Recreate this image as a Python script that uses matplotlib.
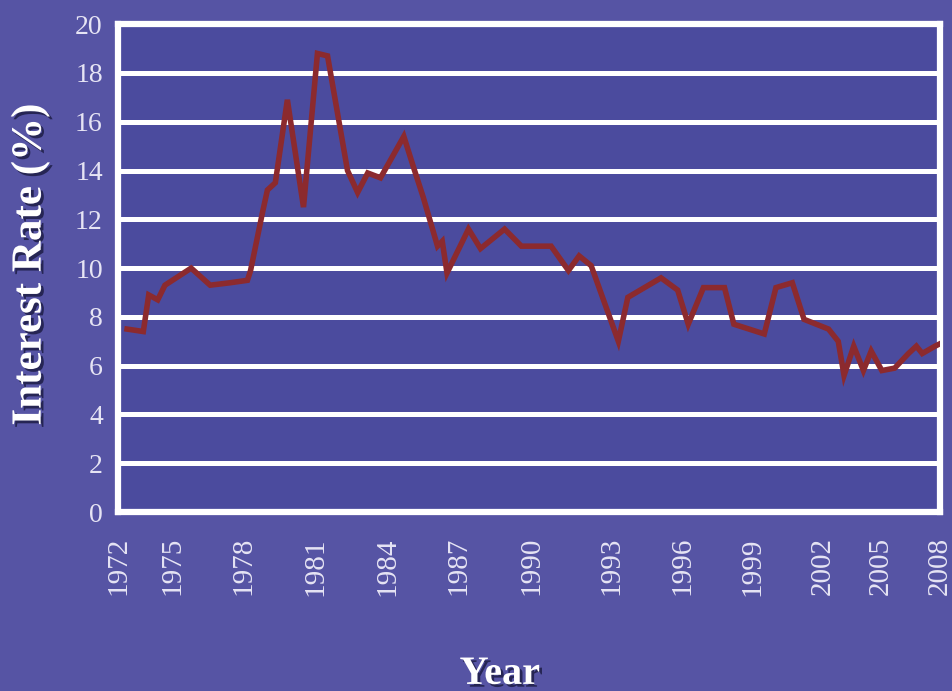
import numpy as np
import matplotlib.pyplot as plt
import matplotlib.patheffects as pe

# interest rate readings (year, percent)
years = [1972.5, 1973.4, 1973.7, 1974.2, 1974.6, 1975.8, 1976.6, 1977.45, 1978.17, 1978.3,
         1978.8, 1979.0, 1979.33, 1979.83, 1980.5, 1981.08, 1981.5, 1982.33, 1982.75, 1983.17,
         1983.7, 1984.68, 1985.1, 1985.5, 1986.1, 1986.3, 1986.5, 1987.4, 1987.9, 1988.9,
         1989.6, 1990.75, 1991.4, 1991.8, 1992.25, 1993.3, 1993.7, 1995.1, 1995.8, 1996.25,
         1996.9, 1997.8, 1998.2, 1999.5, 2000.0, 2000.7, 2001.2, 2002.3, 2002.8, 2003.1,
         2003.6, 2004.1, 2004.5, 2005.05, 2005.7, 2006.4, 2006.8, 2007.1, 2007.75, 2008.0]
rates = [7.5, 7.4, 8.9, 8.7, 9.3, 10.0, 9.3, 9.4, 9.5, 9.9,
         12.3, 13.2, 13.5, 16.9, 12.5, 18.8, 18.7, 14.0, 13.1, 13.9,
         13.7, 15.4, 14.1, 12.9, 10.9, 11.1, 9.8, 11.6, 10.8, 11.6,
         10.9, 10.9, 9.9, 10.5, 10.1, 7.0, 8.8, 9.6, 9.1, 7.7,
         9.2, 9.2, 7.7, 7.3, 9.2, 9.4, 7.9, 7.5, 7.0, 5.6,
         6.8, 5.8, 6.6, 5.8, 5.9, 6.5, 6.8, 6.5, 6.8, 6.9]

tick_years = [1972, 1975, 1978, 1981, 1984, 1987, 1990, 1993, 1996, 1999, 2002, 2005, 2008]
tick_labels = [str(y) for y in tick_years]
y_ticks = list(range(0, 21, 2))

# the original axis spaces the year labels unevenly
tick_pos = [118, 172, 243, 315, 387, 458, 530, 610, 681, 751, 821, 879, 938]


def fwd(x):
    return np.interp(x, tick_years, tick_pos)


def inv(p):
    return np.interp(p, tick_pos, tick_years)


bg = '#5654a4'
plot_bg = '#4b4b9e'
txt = '#e6e4f4'

fig = plt.figure(figsize=(9.52, 6.91), dpi=100, facecolor=bg)
ax = fig.add_axes([0.124, 0.259, 0.8634, 0.706], facecolor=plot_bg)

ax.set_xscale('function', functions=(fwd, inv))
ax.plot(years, rates, color='#8c2a2e', linewidth=4, solid_joinstyle='miter', zorder=3)

ax.set_xlim(1972, 2008)
ax.set_ylim(0, 20)
ax.set_yticks(y_ticks)
ax.set_xticks(tick_years)
ax.set_xticklabels(tick_labels, rotation=90)
ax.minorticks_off()

ax.grid(axis='y', color='white', linewidth=3.6, zorder=2)
ax.set_axisbelow(True)
for s in ax.spines.values():
    s.set_color('white')
    s.set_linewidth(4.5)

ax.tick_params(axis='y', length=0, labelsize=20, labelcolor=txt, pad=11)
ax.tick_params(axis='x', length=0, labelsize=21, labelcolor=txt, pad=18)
for lbl in ax.get_xticklabels() + ax.get_yticklabels():
    lbl.set_family('Liberation Serif')

shadow = [pe.withSimplePatchShadow(offset=(2, -2), shadow_rgbFace='#1a1a40', alpha=0.8)]
fig.text(0.032, 0.617, 'Interest Rate (%)', rotation=90, ha='center', va='center',
         fontsize=31, fontweight='bold', family='Liberation Serif', color='white',
         path_effects=shadow)
fig.text(0.525, 0.024, 'Year', ha='center', va='center', fontsize=29,
         fontweight='bold', family='Liberation Serif', color='white', path_effects=shadow)

plt.savefig('out.png', dpi=100, facecolor=bg)
